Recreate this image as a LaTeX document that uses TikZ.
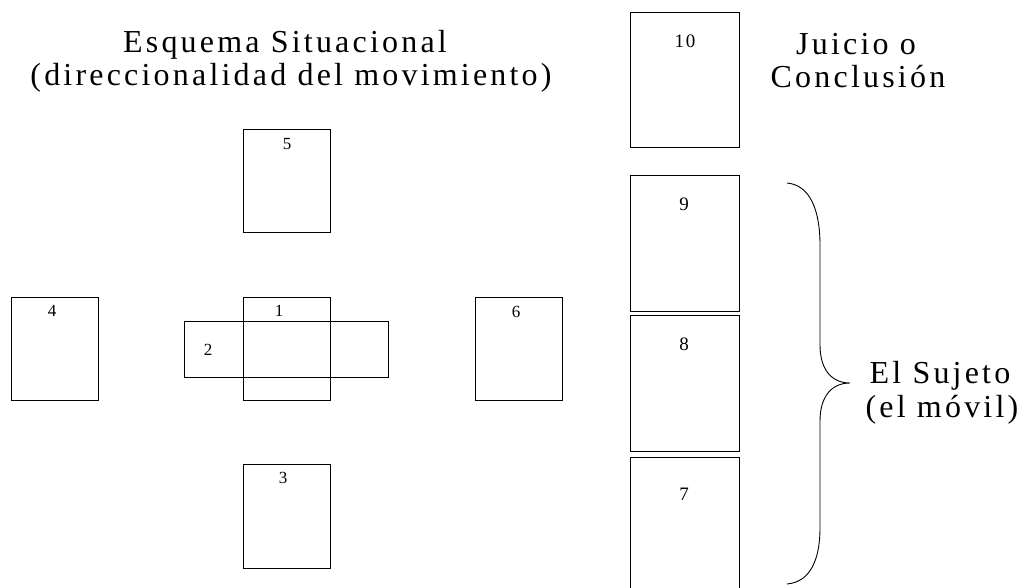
\documentclass[tikz,border=0pt]{standalone}
\usepackage{fontspec}
\setmainfont{Liberation Serif}
\newfontfamily\spacedfont[LetterSpace=10]{Liberation Serif}
\begin{document}
\begin{tikzpicture}[x=1pt,y=-1pt,
  box/.style={draw=black,line width=0.9pt,rectangle,inner sep=0pt,anchor=north west},
  num/.style={inner sep=0pt,font=\fontsize{17}{17}\selectfont},
  bignum/.style={inner sep=0pt,font=\spacedfont\fontsize{19}{19}\selectfont},
  title/.style={inner sep=0pt,anchor=base,font=\spacedfont\fontsize{32}{33}\selectfont}]
\useasboundingbox (0,0) rectangle (1020,587);
\clip (0,0) rectangle (1020,587);
% left group
\node[box,minimum width=87pt,minimum height=103pt] (b5) at (243,129) {};
\node[box,minimum width=87pt,minimum height=103pt] (b4) at (11,297) {};
\node[box,minimum width=87pt,minimum height=103pt] (b1) at (243,297) {};
\node[box,minimum width=204pt,minimum height=56pt] (b2) at (184,321) {};
\node[box,minimum width=87pt,minimum height=103pt] (b6) at (475,297) {};
\node[box,minimum width=87pt,minimum height=104pt] (b3) at (243,464) {};
\node[num] (n5) at (287,144) {5};
\node[num] (n4) at (52,311) {4};
\node[num] (n1) at (279,311) {1};
\node[num] (n2) at (208,350) {2};
\node[num] (n6) at (516,312) {6};
\node[num] (n3) at (283,478) {3};
% right column
\node[box,minimum width=109pt,minimum height=135pt] (b10) at (630,12) {};
\node[box,minimum width=109pt,minimum height=136pt] (b9) at (630,175) {};
\node[box,minimum width=109pt,minimum height=136pt] (b8) at (630,315) {};
\node[box,minimum width=109pt,minimum height=140pt] (b7) at (630,457) {};
\node[bignum] (n10) at (685,41) {10};
\node[bignum] (n9) at (684,204) {9};
\node[bignum] (n8) at (684,344) {8};
\node[bignum] (n7) at (684,494) {7};
% titles
\node[title] (t1a) at (285,52) {Esquema Situacional};
\node[title] (t1b) at (291,85) {(direccionalidad del movimiento)};
\node[title] (t2a) at (856,54) {Juicio o};
\node[title] (t2b) at (858,87) {Conclusión};
\node[title] (t3a) at (940,383) {El Sujeto};
\node[title] (t3b) at (942,417) {(el móvil)};
% brace
\draw[line width=0.9pt] (787,183) .. controls (810,185) and (820,210) .. (820,245)
  -- (820,345) .. controls (820,370) and (832,383) .. (850,383)
  .. controls (832,383) and (820,396) .. (820,421)
  -- (820,528) .. controls (820,560) and (810,582) .. (787,584);
\end{tikzpicture}
\end{document}
